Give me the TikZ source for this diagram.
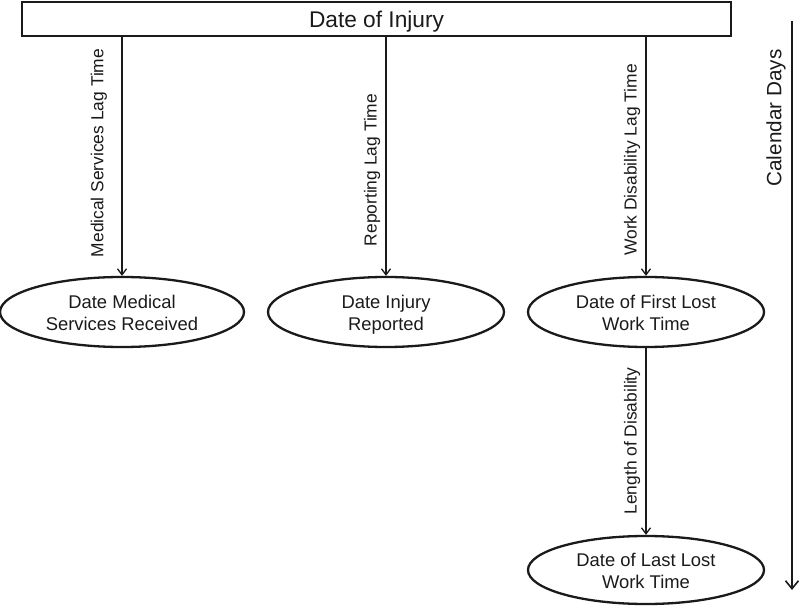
\documentclass[tikz,border=0pt]{standalone}
\usepackage{fontspec}
\setmainfont{Liberation Sans}
\usetikzlibrary{shapes.geometric,arrows.meta}
\definecolor{ink}{HTML}{1A1A1A}
\newcommand{\lowertext}[1]{\raisebox{-3pt}[\height][\depth]{#1}}
\tikzset{
  topbox/.style={draw=ink, line width=2pt, rectangle, minimum width=709pt, minimum height=34pt, inner sep=0pt,
    font=\fontsize{22.7}{26}\selectfont, text=ink},
  oval/.style={draw=ink, line width=2.3pt, ellipse, minimum width=238pt, minimum height=70pt, inner sep=0pt,
    align=center, font=\fontsize{18.4}{22}\selectfont, text=ink},
  lag/.style={rotate=90, inner sep=0pt, font=\fontsize{17.4}{20}\selectfont, text=ink},
  conn/.style={draw=ink, line width=1.3pt, -{Straight Barb[length=6pt,width=9pt,line width=1.3pt]}},
  bigconn/.style={draw=ink, line width=1.6pt, -{Straight Barb[length=8pt,width=13pt,line width=1.6pt]}}
}
\begin{document}
\begin{tikzpicture}[x=1pt,y=-1pt]
\useasboundingbox (0,0) rectangle (800,609);
\node[topbox] (box) at (376.5,19) {\lowertext{Date of Injury}};
\node[oval, minimum width=244pt] (e1) at (122,312) {\lowertext{\begin{tabular}{@{}c@{}}Date Medical\\Services Received\end{tabular}}};
\node[oval, minimum width=236pt] (e2) at (386,312) {\lowertext{\begin{tabular}{@{}c@{}}Date Injury\\Reported\end{tabular}}};
\node[oval, minimum width=236pt] (e3) at (646,312) {\lowertext{\begin{tabular}{@{}c@{}}Date of First Lost\\Work Time\end{tabular}}};
\node[oval, minimum width=236pt, minimum height=68pt] (e4) at (646,570) {\lowertext{\begin{tabular}{@{}c@{}}Date of Last Lost\\Work Time\end{tabular}}};
\draw[conn] (box.south -| e1.north) -- (e1.north);
\draw[conn] (box.south -| e2.north) -- (e2.north);
\draw[conn] (box.south -| e3.north) -- (e3.north);
\draw[conn] (e3.south) -- (e4.north);
\node[lag] (l1) at (99,153) {Medical Services Lag Time};
\node[lag] (l2) at (372,170) {Reporting Lag Time};
\node[lag] (l3) at (632,160) {Work Disability Lag Time};
\node[lag] (l4) at (632,441) {Length of Disability};
\coordinate (c1) at (792,21);
\coordinate (c2) at (792,590);
\draw[bigconn] (c1) -- (c2);
\node[rotate=90, inner sep=0pt, font=\fontsize{20.7}{24}\selectfont, text=ink] (cal) at (776,118) {Calendar Days};
\end{tikzpicture}
\end{document}
